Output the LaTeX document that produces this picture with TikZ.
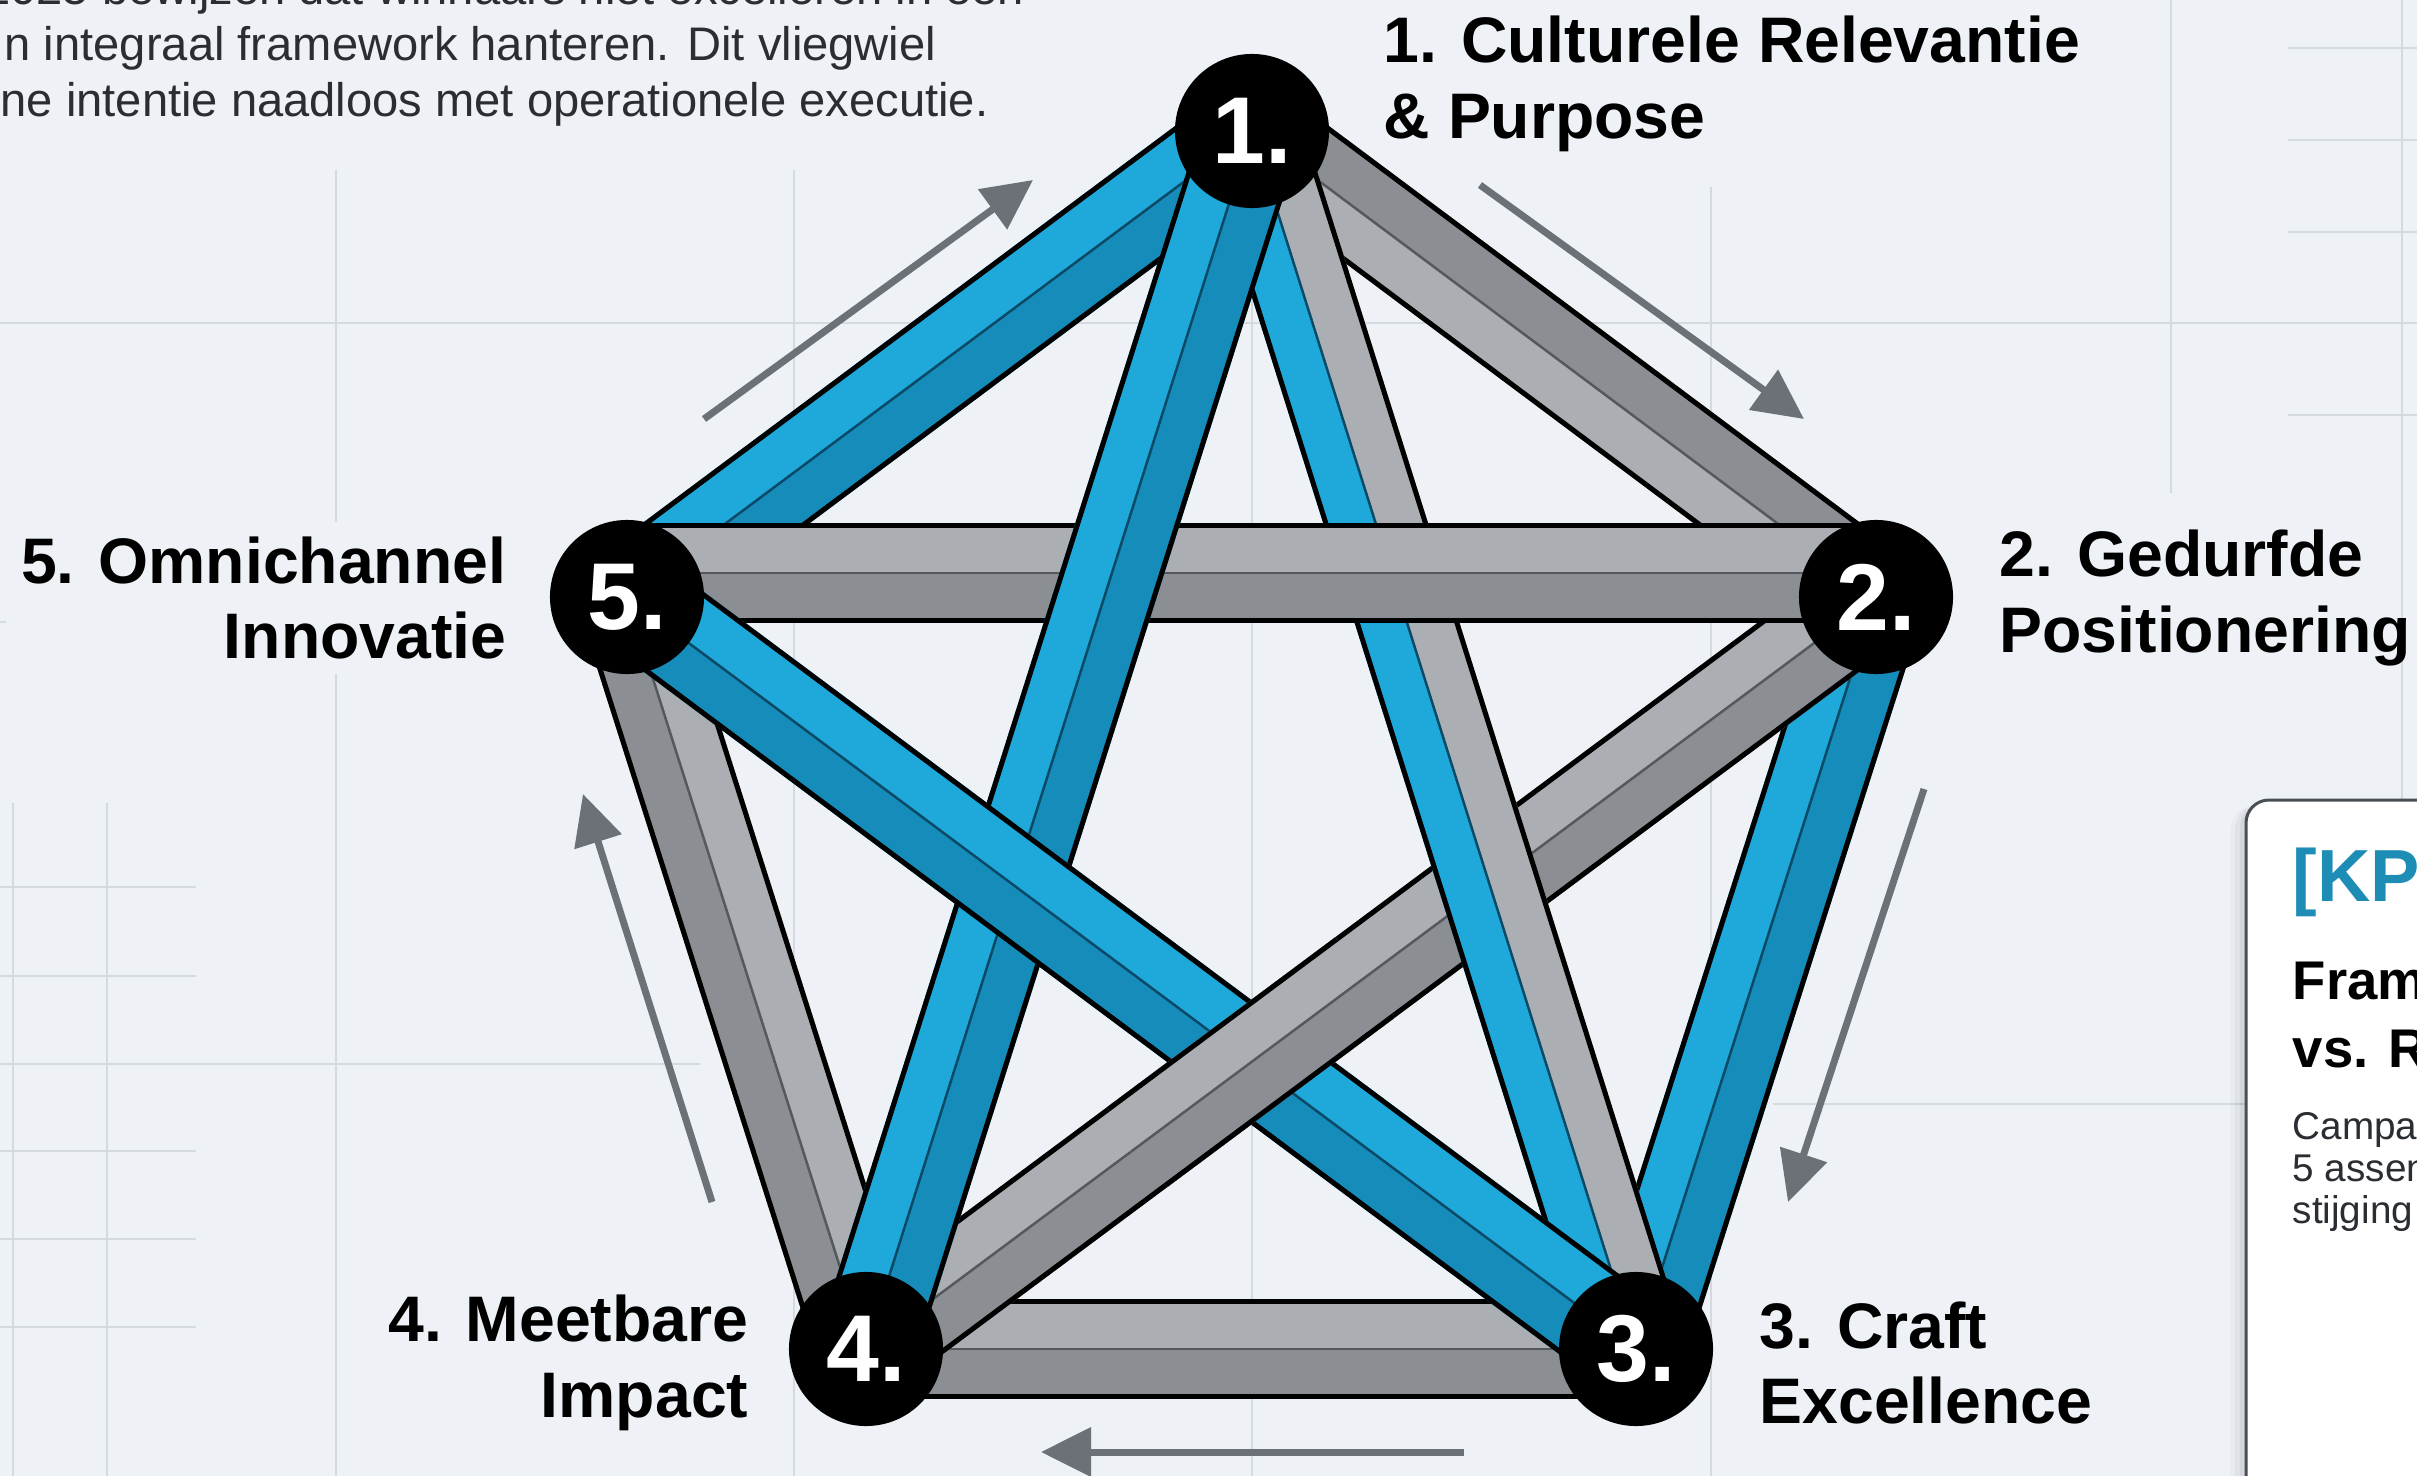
\documentclass[tikz,border=0pt]{standalone}
\usepackage{fontspec}
\setmainfont{Liberation Sans}
\usetikzlibrary{calc,arrows.meta}

\definecolor{bg}{HTML}{EEF2F6}
\definecolor{gridc}{HTML}{D5DAE0}
\definecolor{bluelight}{HTML}{1FA9DA}
\definecolor{bluedark}{HTML}{168CBB}
\definecolor{blueseam}{HTML}{0A4A66}
\definecolor{graylight}{HTML}{ABAFB4}
\definecolor{graydark}{HTML}{8B8F94}
\definecolor{grayseam}{HTML}{55595E}
\definecolor{arrowgray}{HTML}{6B7177}
\definecolor{textdark}{HTML}{2A2E33}
\definecolor{kpiteal}{HTML}{1E8DB6}
\definecolor{cardedge}{HTML}{4A4F55}

\pgfdeclarelayer{backdrop}
\pgfdeclarelayer{bands}
\pgfsetlayers{backdrop,bands,main}

% one two-faced bar between two nodes: #1,#2 nodes, #3 sideways shift of the axis,
% #4 face left of travel, #5 face right of travel, #6 seam colour
\newcommand\strand[6]{%
  \coordinate (sA) at ($(#1.center)!#3!90:(#2.center)$);
  \coordinate (sB) at ($(#2.center)!#3!-90:(#1.center)$);
  \draw[line width=0.5cm, draw=#4] ($(sA)!0.25cm!90:(sB)$) -- ($(sB)!0.25cm!-90:(sA)$);
  \draw[line width=0.5cm, draw=#5] ($(sA)!0.25cm!-90:(sB)$) -- ($(sB)!0.25cm!90:(sA)$);
  \draw[line width=0.05cm, draw=black] ($(sA)!0.475cm!90:(sB)$) -- ($(sB)!0.475cm!-90:(sA)$);
  \draw[line width=0.05cm, draw=black] ($(sA)!0.475cm!-90:(sB)$) -- ($(sB)!0.475cm!90:(sA)$);
  \draw[line width=0.025cm, draw=#6] (sA) -- (sB);
}

\begin{document}
\begin{tikzpicture}[x=0.01cm, y=-0.01cm,
  num/.style={circle, fill=black, minimum size=1.54cm, inner sep=0pt, text=white,
    font=\bfseries\fontsize{27}{27}\selectfont},
  lbl/.style={inner sep=0.15cm, text=black,
    font=\bfseries\fontsize{18.3}{21.5}\selectfont},
  para/.style={inner sep=0pt, text=textdark, font=\fontsize{13.4}{16}\selectfont},
  flow/.style={draw=arrowgray, line width=0.07cm, -{Triangle[length=0.5cm,width=0.48cm]}},
  gridline/.style={draw=gridc, line width=0.025cm},
]
\useasboundingbox (0,0) rectangle (2417,1476);

% backdrop and faint grid
\begin{pgfonlayer}{backdrop}
  \fill[bg] (0,0) rectangle (2417,1476);
  \draw[gridline] (0,323) -- (2417,323);
  \draw[gridline] (336,170) -- (336,1476);
  \draw[gridline] (794,170) -- (794,1476);
  \draw[gridline] (1252,170) -- (1252,1476);
  \draw[gridline] (1711,187) -- (1711,1476);
  \draw[gridline] (2171,0) -- (2171,493);
  \draw[gridline] (2402,0) -- (2402,1476);
  \foreach \yy in {48,140,232,415} \draw[gridline] (2288,\yy) -- (2417,\yy);
  \foreach \xx in {13,107} \draw[gridline] (\xx,803) -- (\xx,1476);
  \foreach \yy in {887,976,1151,1239,1327} \draw[gridline] (0,\yy) -- (196,\yy);
  \draw[gridline] (0,1064) -- (700,1064);
  \draw[gridline] (0,622) -- (175,622);
  \draw[gridline] (1773,1104) -- (2246,1104);
\end{pgfonlayer}

% intro text
\node[para, anchor=base east] (t1) at (1025,5) {2025 bewijzen dat winnaars niet excelleren in een};
\node[para, anchor=base west] (t2) at (4,61) {n integraal framework hanteren. Dit vliegwiel};
\node[para, anchor=base west] (t3) at (0,117) {ne intentie naadloos met operationele executie.};

% the five pillars
\node[num] (n1) at (1252,131) {1.};
\node[num] (n2) at (1876,597) {2.};
\node[num] (n3) at (1636,1349) {3.};
\node[num] (n4) at (866,1349) {4.};
\node[num] (n5) at (627,597) {5.};

\node[lbl, anchor=west, align=left] (l1) at (1368,84) {1. Culturele Relevantie\\\& Purpose};
\node[lbl, anchor=west, align=left] (l2) at (1984,598) {2. Gedurfde\\Positionering};
\node[lbl, anchor=west, align=left] (l3) at (1744,1363) {3. Craft\\Excellence};
\node[lbl, anchor=east, align=right] (l4) at (764,1363) {4. Meetbare\\Impact};
\node[lbl, fill=bg, anchor=east, align=right] (l5) at (522,598) {5. Omnichannel\\Innovatie};

% interlaced bars
\begin{pgfonlayer}{bands}
  % outer ring
  \strand{n1}{n2}{0cm}{graydark}{graylight}{grayseam}
  \strand{n2}{n3}{0cm}{bluedark}{bluelight}{blueseam}
  \strand{n3}{n4}{0cm}{graydark}{graylight}{grayseam}
  \strand{n4}{n5}{0cm}{graydark}{graylight}{grayseam}
  \strand{n5}{n1}{0cm}{bluelight}{bluedark}{blueseam}
  % inner star, woven over and under
  \strand{n2}{n4}{0cm}{graydark}{graylight}{grayseam}
  \strand{n1}{n3}{0cm}{graylight}{bluelight}{blueseam}
  \strand{n5}{n2}{0.24cm}{graylight}{graydark}{grayseam}
  \strand{n1}{n4}{0cm}{bluedark}{bluelight}{blueseam}
  \strand{n5}{n3}{0cm}{bluelight}{bluedark}{blueseam}
  % the 2-4 bar passes over the 5-3 bar at the bottom crossing
  \begin{scope}
    \clip (1251,1062) circle (1.5cm);
    \strand{n2}{n4}{0cm}{graydark}{graylight}{grayseam}
  \end{scope}
\end{pgfonlayer}

% flow direction around the ring
\coordinate (a1s) at (704,419);  \coordinate (a1e) at (1033,180);
\coordinate (a2s) at (1480,185); \coordinate (a2e) at (1804,419);
\coordinate (a3s) at (1924,789); \coordinate (a3e) at (1788,1202);
\coordinate (a4s) at (1464,1452);\coordinate (a4e) at (1041,1452);
\coordinate (a5s) at (712,1202); \coordinate (a5e) at (583,794);
\draw[flow] (a1s) -- (a1e);
\draw[flow] (a2s) -- (a2e);
\draw[flow] (a3s) -- (a3e);
\draw[flow] (a4s) -- (a4e);
\draw[flow] (a5s) -- (a5e);

% KPI card at the right edge
\foreach \s/\o in {16/0.025,11/0.035,6/0.05}
  \fill[black, opacity=\o, rounded corners=0.26cm] (2246-\s,800+\s/3) rectangle (2520,1560);
\draw[fill=white, draw=cardedge, line width=0.03cm, rounded corners=0.23cm] (2246,800) rectangle (2520,1560);
\node[anchor=west, inner sep=0pt, text=kpiteal, font=\bfseries\fontsize{21}{24}\selectfont] (kpi) at (2292,882) {[KPI]};
\node[anchor=west, inner sep=0pt, align=left, font=\bfseries\fontsize{15.5}{19.3}\selectfont] (kt) at (2292,1014) {Framework\\vs. ROI};
\node[anchor=west, inner sep=0pt, align=left, text=textdark, font=\fontsize{11}{12}\selectfont] (kb) at (2292,1172) {Campagnes\\5 assen\\stijging};
\end{tikzpicture}
\end{document}
